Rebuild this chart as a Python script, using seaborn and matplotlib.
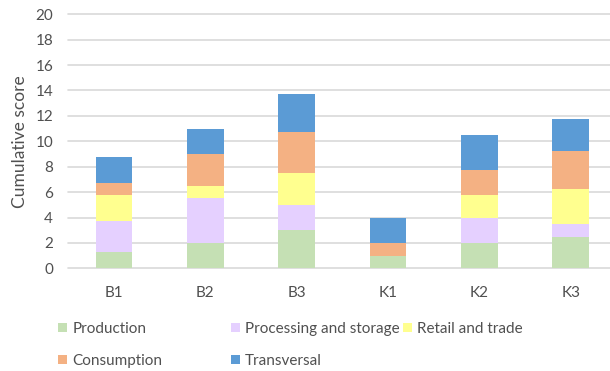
import matplotlib
matplotlib.use("Agg")
import matplotlib.pyplot as plt
from matplotlib.patches import Patch
import numpy as np
import pandas as pd
import seaborn as sns

sites = ["B1", "B2", "B3", "K1", "K2", "K3"]
production = [1.25, 2.0, 3.0, 1.0, 2.0, 2.5]
processing = [2.5, 3.5, 2.0, 0.0, 2.0, 1.0]
retail = [2.0, 1.0, 2.5, 0.0, 1.75, 2.75]
consumption = [1.0, 2.5, 3.25, 1.0, 2.0, 3.0]
transversal = [2.0, 2.0, 3.0, 2.0, 2.75, 2.5]

stages = ["Production", "Processing and storage", "Retail and trade",
          "Consumption", "Transversal"]
colors = ["#C5E0B4", "#E5D0FF", "#FFFF8F", "#F4B183", "#5B9BD5"]

sns.set_theme(style="white")
plt.rcParams["font.family"] = ["Lato", "DejaVu Sans"]
text_color = "#505050"

df = pd.DataFrame({"site": sites, "Production": production,
                   "Processing and storage": processing,
                   "Retail and trade": retail,
                   "Consumption": consumption, "Transversal": transversal})
cum = df[stages].cumsum(axis=1)

fig = plt.figure(figsize=(6.10, 3.71), dpi=100)
ax = fig.add_axes([68.4 / 610, 1 - 268.3 / 371, 548 / 610, 254 / 371])

# stacked bars: draw cumulative totals from the top layer down
for stage, color in reversed(list(zip(stages, colors))):
    sns.barplot(x=df["site"], y=cum[stage], color=color, width=0.4,
                saturation=1, ax=ax, zorder=3, linewidth=0)

ax.set_ylim(0, 20)
ax.set_yticks(np.arange(0, 21, 2))
ax.grid(axis="y", color="#D9D9D9", linewidth=1.2, zorder=0)
for ln in ax.get_ygridlines():
    ln.set_clip_on(False)
for s in ax.spines.values():
    s.set_visible(False)
ax.tick_params(axis="both", length=0, labelsize=11, colors=text_color)
ax.tick_params(axis="x", pad=13)
ax.tick_params(axis="y", pad=11)
ax.set_xlabel("")
ax.set_ylabel("Cumulative score", fontsize=12.5, color=text_color)
ax.yaxis.set_label_coords(-0.073, 0.5)

handles = {s: Patch(facecolor=c, edgecolor="none") for s, c in zip(stages, colors)}
columns = [(["Production", "Consumption"], 58),
           (["Processing and storage", "Transversal"], 231),
           (["Retail and trade"], 403)]
for labels, xpix in columns:
    fig.legend([handles[l] for l in labels], labels, loc="upper left",
               bbox_to_anchor=(xpix / 610, 1 - 322 / 371), frameon=False,
               fontsize=11, handlelength=0.6, handleheight=0.6,
               handletextpad=0.33, labelspacing=1.18, borderpad=0,
               borderaxespad=0, labelcolor=text_color)

fig.savefig("out.png", dpi=100)
